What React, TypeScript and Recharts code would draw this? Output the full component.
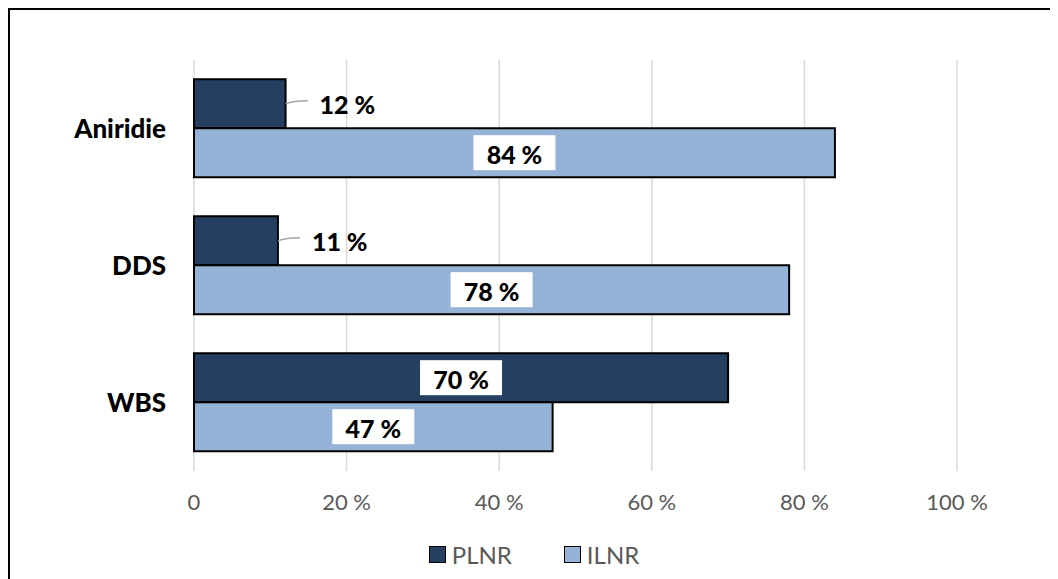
import React from "react";
import { BarChart, Bar, XAxis, YAxis, CartesianGrid, Legend, LabelList } from "recharts";

const categories = ["Aniridie", "DDS", "WBS"];
const plnrValues = [12, 11, 70];
const ilnrValues = [84, 78, 47];
const xTicks = [0, 20, 40, 60, 80, 100];
const seriesNames = ["PLNR", "ILNR"];
const seriesColors = ["#243F60", "#95B3D7"];

const data = categories.map((c, i) => ({ name: c, PLNR: plnrValues[i], ILNR: ilnrValues[i] }));

const FONT = "Lato, 'Open Sans', sans-serif";

const renderLabel = (props: any) => {
  const { x, y, width, height, value } = props;
  const v = Number(value);
  const cy = Number(y) + Number(height) / 2;
  if (v < 20) {
    const x0 = Number(x) + Number(width);
    return (
      <g>
        <path d={`M${x0},${cy} Q${x0 + 8},${cy - 3} ${x0 + 22},${cy - 3}`} stroke="#a6a6a6" strokeWidth={1.5} fill="none" />
        <text x={x0 + 34} y={cy} dominantBaseline="central" textAnchor="start" fontFamily={FONT} fontWeight={900} fontSize={25} fill="#000">
          {`${v} %`}
        </text>
      </g>
    );
  }
  const cx = Number(x) + Number(width) / 2;
  const bw = 82;
  const bh = 35;
  return (
    <g>
      <rect x={cx - bw / 2} y={cy - bh / 2} width={bw} height={bh} fill="#fff" />
      <text x={cx} y={cy + 1} dominantBaseline="central" textAnchor="middle" fontFamily={FONT} fontWeight={900} fontSize={25} fill="#000">
        {`${v} %`}
      </text>
    </g>
  );
};

const renderLegend = () => (
  <div style={{ display: "flex", justifyContent: "center", alignItems: "center", fontFamily: FONT, fontSize: 24, color: "#595959" }}>
    {seriesNames.map((n, i) => (
      <div key={n} style={{ display: "flex", alignItems: "center", marginRight: i === 0 ? 52 : 0 }}>
        <span style={{ display: "inline-block", width: 15, height: 15, background: seriesColors[i], border: "1.5px solid #000", marginRight: 6 }} />
        <span>{n}</span>
      </div>
    ))}
  </div>
);

export default function App() {
  return (
    <div style={{ width: 1050, height: 571, borderTop: "2px solid #000", borderLeft: "2px solid #000", boxSizing: "border-box", overflow: "hidden", background: "#fff" }}>
      <BarChart
        width={1048}
        height={569}
        data={data}
        layout="vertical"
        margin={{ top: 50, right: 101, bottom: 78, left: 0 }}
        barCategoryGap="14%"
        barGap={0}
      >
        <CartesianGrid horizontal={false} stroke="#d9d9d9" strokeWidth={1.5} />
        <XAxis
          type="number"
          domain={[0, 100]}
          ticks={xTicks}
          height={30}
          axisLine={false}
          tickLine={false}
          tickSize={0}
          tickMargin={23}
          tickFormatter={(v: number) => (v === 0 ? "0" : `${v} %`)}
          tick={{ fill: "#595959", fontSize: 22, fontFamily: FONT }}
        />
        <YAxis
          type="category"
          dataKey="name"
          width={184}
          axisLine={false}
          tickLine={false}
          tickSize={0}
          tickMargin={28}
          tick={{ fill: "#000", fontSize: 26, fontWeight: 900, fontFamily: FONT }}
        />
        <Legend
          layout="horizontal"
          verticalAlign="middle"
          align="center"
          content={renderLegend}
          wrapperStyle={{ top: 530, left: 0, width: 1048 }}
        />
        <Bar dataKey="PLNR" fill={seriesColors[0]} stroke="#000" strokeWidth={2} isAnimationActive={false}>
          <LabelList dataKey="PLNR" content={renderLabel} />
        </Bar>
        <Bar dataKey="ILNR" fill={seriesColors[1]} stroke="#000" strokeWidth={2} isAnimationActive={false}>
          <LabelList dataKey="ILNR" content={renderLabel} />
        </Bar>
      </BarChart>
    </div>
  );
}
